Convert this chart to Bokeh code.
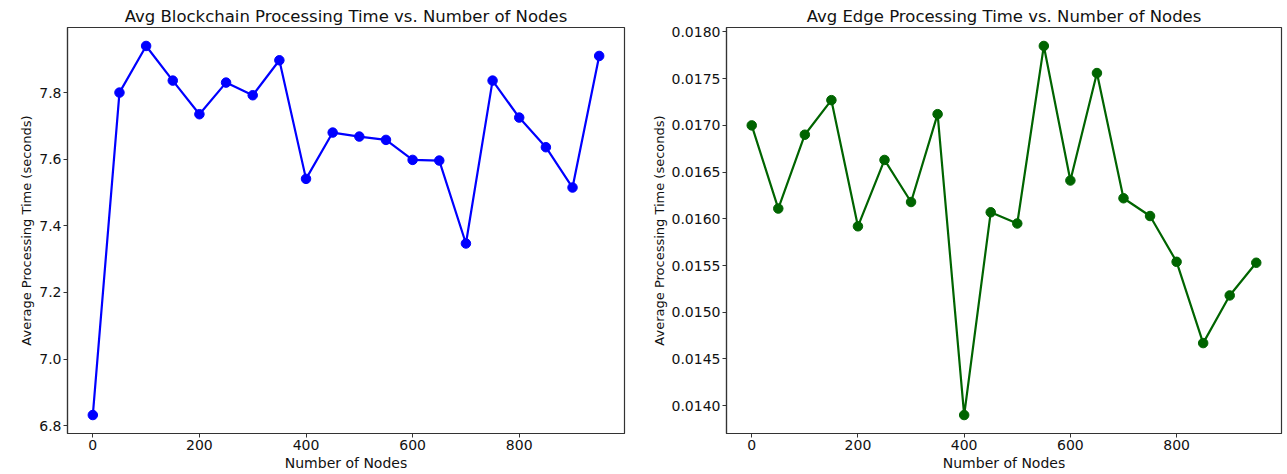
from bokeh.plotting import figure
from bokeh.layouts import row
from bokeh.models import Range1d, FixedTicker, PrintfTickFormatter
from bokeh.embed import file_html
from bokeh.resources import INLINE

nodes = [0, 50, 100, 150, 200, 250, 300, 350, 400, 450,
         500, 550, 600, 650, 700, 750, 800, 850, 900, 950]
blockchain_time = [6.832, 7.800, 7.940, 7.836, 7.735, 7.830, 7.792, 7.897, 7.541, 7.680,
                   7.668, 7.658, 7.598, 7.596, 7.347, 7.836, 7.725, 7.636, 7.515, 7.910]
edge_time = [0.01700, 0.01611, 0.01690, 0.01727, 0.01592, 0.01663, 0.01618, 0.01712, 0.01390, 0.01607,
             0.01595, 0.01785, 0.01641, 0.01756, 0.01622, 0.01603, 0.01554, 0.01467, 0.01518, 0.01553]
x_ticks = [0, 200, 400, 600, 800]
left_y_ticks = [6.8, 7.0, 7.2, 7.4, 7.6, 7.8]
right_y_ticks = [0.0140, 0.0145, 0.0150, 0.0155, 0.0160, 0.0165, 0.0170, 0.0175, 0.0180]

titles = ["Avg Blockchain Processing Time vs. Number of Nodes",
          "Avg Edge Processing Time vs. Number of Nodes"]
x_label = "Number of Nodes"
y_label = "Average Processing Time (seconds)"

FONT = "DejaVu Sans"


def padded(vals, frac=0.05):
    lo, hi = min(vals), max(vals)
    pad = (hi - lo) * frac
    return Range1d(lo - pad, hi + pad)


def make(title, ys, color, yticks, fmt, width, mbl, mbr):
    p = figure(width=width, height=474, output_backend="svg", toolbar_location=None,
               x_range=padded(nodes), y_range=padded(ys),
               min_border_left=mbl, min_border_right=mbr,
               min_border_top=27, min_border_bottom=41)
    p.title.text = title
    p.title.align = "center"
    p.title.text_font = FONT
    p.title.text_font_size = "16.5px"
    p.title.text_font_style = "normal"
    p.title.text_color = "#111111"
    p.title.offset = 0
    p.title.standoff = 3
    p.line(nodes, ys, line_color=color, line_width=2.2)
    p.scatter(nodes, ys, size=9.5, fill_color=color, line_color=color)
    p.xgrid.visible = False
    p.ygrid.visible = False
    p.outline_line_color = "#333333"
    p.outline_line_width = 1.2
    p.outline_line_alpha = 1
    p.background_fill_color = "white"
    p.border_fill_color = "white"
    for ax in (p.xaxis[0], p.yaxis[0]):
        ax.axis_line_color = "#333333"
        ax.axis_line_width = 1.2
        ax.major_tick_line_color = "#333333"
        ax.minor_tick_line_color = None
        ax.major_tick_out = 4
        ax.major_tick_in = 0
        ax.major_label_standoff = 2
        ax.major_label_text_font = FONT
        ax.major_label_text_font_size = "14px"
        ax.major_label_text_color = "#111111"
        ax.axis_label_text_font = FONT
        ax.axis_label_text_font_style = "normal"
        ax.axis_label_text_color = "#111111"
        ax.axis_label_standoff = 2
    p.xaxis[0].ticker = FixedTicker(ticks=x_ticks)
    p.yaxis[0].ticker = FixedTicker(ticks=yticks)
    p.yaxis[0].formatter = PrintfTickFormatter(format=fmt)
    p.xaxis[0].axis_label = x_label
    p.xaxis[0].axis_label_text_font_size = "14px"
    p.yaxis[0].axis_label = y_label
    p.yaxis[0].axis_label_text_font_size = "13px"
    return p


p1 = make(titles[0], blockchain_time, "#0000ff", left_y_ticks, "%.1f", 640, 67, 16)
p2 = make(titles[1], edge_time, "#006400", right_y_ticks, "%.4f", 647, 86, 6)

layout = row(p1, p2)
open("out.html", "w").write(file_html(layout, INLINE))
